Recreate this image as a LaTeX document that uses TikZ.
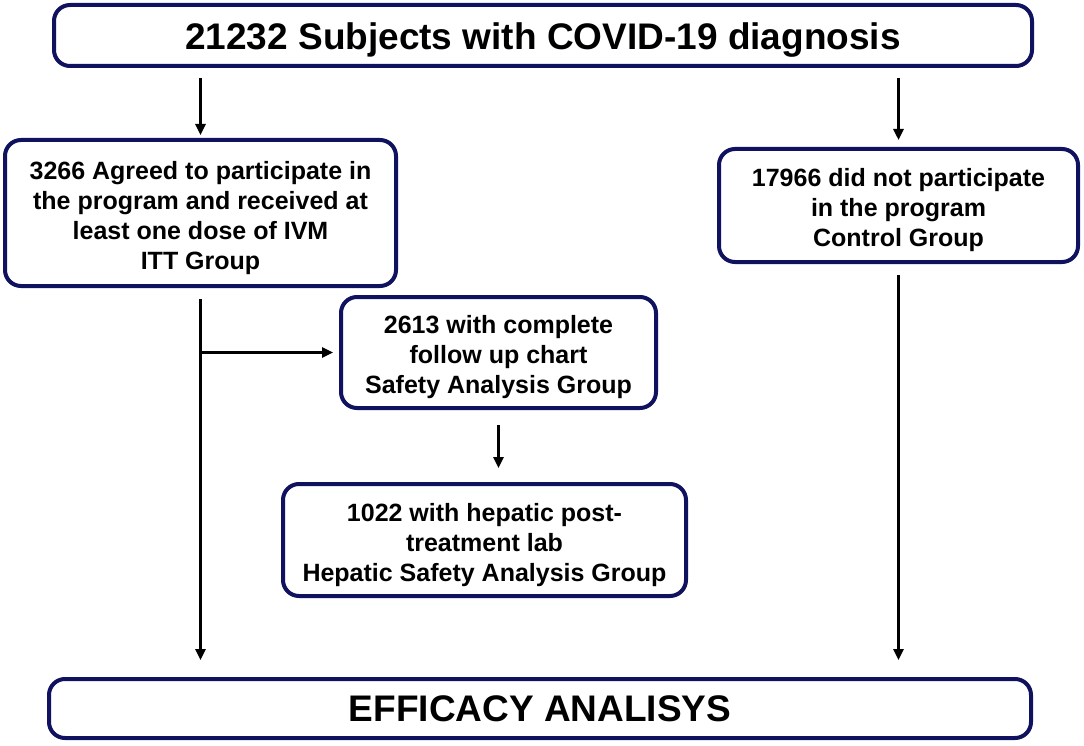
\documentclass[tikz,border=0pt]{standalone}
\usepackage{fontspec}
\setmainfont{Liberation Sans}
\usepackage{tikz}
\usetikzlibrary{arrows.meta,calc}
\definecolor{boxnavy}{RGB}{16,18,96}
\newcommand{\lift}[1]{\rule{0pt}{#1}}

\begin{document}
\begin{tikzpicture}[x=1pt,y=-1pt,
  box/.style={draw=boxnavy,line width=4pt,rounded corners=16pt,align=center,
    font=\bfseries\fontsize{25}{30}\selectfont,inner sep=0pt},
  bigbox/.style={box,font=\bfseries\fontsize{37}{40}\selectfont},
  arr/.style={line width=2.5pt,-{Triangle[length=11pt,width=10pt]}}]
\useasboundingbox (0,0) rectangle (1084,746);
\node[bigbox,minimum width=978pt,minimum height=61pt] (subj) at (543,35.5) {\lift{36pt}21232 Subjects with COVID-19 diagnosis};
\node[box,minimum width=391pt,minimum height=146pt] (itt) at (200.5,213) {\lift{28pt}3266 Agreed to participate in\\the program and received at\\least one dose of IVM\\ITT Group};
\node[box,minimum width=359pt,minimum height=113pt] (ctrl) at (898.5,205.5) {\lift{28pt}17966 did not participate\\in the program\\Control Group};
\node[box,minimum width=315pt,minimum height=111pt] (safety) at (498.5,352.5) {\lift{28pt}2613 with complete\\follow up chart\\Safety Analysis Group};
\node[box,minimum width=403pt,minimum height=112pt] (hepatic) at (484.5,540) {\lift{28pt}1022 with hepatic post-\\treatment lab\\Hepatic Safety Analysis Group};
\node[bigbox,minimum width=982pt,minimum height=59pt] (eff) at (540,708.5) {EFFICACY ANALISYS};
% connectors
\draw[arr,shorten <=10pt,shorten >=3pt] (subj.south -| itt.north) -- (itt.north);
\draw[arr,shorten <=10pt,shorten >=7pt] (subj.south -| ctrl.north) -- (ctrl.north);
\draw[arr,shorten <=11pt,shorten >=17pt] (itt.south) -- (itt.south |- eff.north);
\coordinate (branch) at (itt.south |- safety.west);
\draw[arr,shorten >=6pt] (branch) -- (safety.west);
\draw[arr,shorten <=15pt,shorten >=14pt] (safety.south) -- (safety.south |- hepatic.north);
\draw[arr,shorten <=11pt,shorten >=17pt] (ctrl.south) -- (ctrl.south |- eff.north);
\end{tikzpicture}
\end{document}
